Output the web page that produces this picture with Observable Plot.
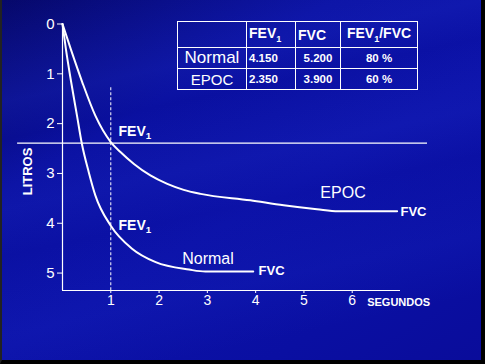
<!DOCTYPE html>
<html><head><meta charset="utf-8">
<script src="https://cdn.jsdelivr.net/npm/d3@7"></script>
<script src="https://cdn.jsdelivr.net/npm/@observablehq/plot@0.6"></script>
<style>
html,body{margin:0;padding:0;background:#000;}
#wrap{position:relative;width:485px;height:364px;overflow:hidden;
 background:
  linear-gradient(168deg, rgba(0,0,40,0.0) 0%, rgba(40,60,220,0.18) 22%, rgba(0,0,40,0.0) 30%, rgba(40,60,220,0.15) 45%, rgba(0,0,40,0.0) 55%, rgba(30,50,210,0.15) 72%, rgba(0,0,0,0) 85%),
  linear-gradient(150deg, #06086a 0%, #0a10a0 30%, #0c12a8 55%, #0a0fa2 80%, #0a0c9a 100%);}
#frame{position:absolute;left:0;top:0;width:485px;height:364px;box-sizing:border-box;border-left:2px solid #222;border-right:4px solid #000;border-bottom:4px solid #000;pointer-events:none;}
#wrap svg{position:absolute;left:0;top:0;}
table{position:absolute;left:177px;top:21px;border-collapse:collapse;color:#fff;font-family:"Liberation Sans",Arial,sans-serif;}
td{border:1.5px solid #fff;padding:0 2px;white-space:nowrap;}
td sub{font-size:0.65em;}
</style></head>
<body><div id="wrap"><div id="frame"></div></div>
<script>
// Data
const normalT = [0, 0.07, 0.18, 0.30, 0.40, 0.545, 0.68, 1, 1.44, 1.93, 2.62, 2.96, 3.95];
const normalV = [0, 0.5, 1.17, 1.84, 2.40, 2.98, 3.44, 4.05, 4.51, 4.78, 4.93, 4.97, 4.97];
const epocT = [0, 0.17, 0.41, 0.68, 1.0, 1.2, 1.48, 1.82, 2.17, 2.51, 2.86, 3.89, 4.58, 5.27, 5.71, 6.93];
const epocV = [0, 0.5, 1.17, 1.84, 2.37, 2.57, 2.81, 3.04, 3.21, 3.33, 3.41, 3.54, 3.64, 3.72, 3.76, 3.76];
const xTicks = [1, 2, 3, 4, 5, 6];
const yTicks = [0, 1, 2, 3, 4, 5];
const xMax = 7, yMax = 5.35;
const fev1Level = [{y: 2.39, x1: -0.93, x2: 7.56}];
const fev1Time = [{x: 1, y1: 1.28, y2: yMax}];
const fevLabels = [{label: "FEV1", x: 1.16, y: 2.16}, {label: "FEV1", x: 1.16, y: 4.04}];
const seriesLabels = [{label: "Normal", x: 2.48, y: 4.72}, {label: "EPOC", x: 5.34, y: 3.39}];
const fvcLabels = [{label: "FVC", x: 7.0, y: 3.77}, {label: "FVC", x: 4.06, y: 4.95}];
const xTitle = [{label: "SEGUNDOS", x: 6.31, y: 5.59}];
const yTitle = [{label: "LITROS", x: -0.72, y: 2.96}];
const tableHeader = ["", "FEV1", "FVC", "FEV1/FVC"];
const tableRowNames = ["Normal", "EPOC"];
const tableFEV1 = ["4.150", "2.350"];
const tableFVC = ["5.200", "3.900"];
const tableRatio = ["80 %", "60 %"];

const normal = normalT.map((t, i) => ({t, v: normalV[i]}));
const epoc = epocT.map((t, i) => ({t, v: epocV[i]}));
const font = '"Liberation Sans", Arial, sans-serif';

const chart = Plot.plot({
  width: 485, height: 364,
  marginLeft: 62, marginRight: 85, marginTop: 23.5, marginBottom: 74,
  style: {background: "transparent", color: "#fff", fontFamily: font, overflow: "visible"},
  x: {domain: [0, xMax]},
  y: {domain: [0, yMax], reverse: true},
  marks: [
    Plot.axisX({ticks: xTicks, tickFormat: "d", tickSize: 3, tickPadding: 2, label: null, fontSize: 14, stroke: "#fff", color: "#fff"}),
    Plot.axisY({ticks: yTicks, tickFormat: "d", tickSize: 5, tickPadding: 3, label: null, fontSize: 15, stroke: "#fff", color: "#fff"}),
    Plot.ruleX([0], {y1: 0, y2: yMax, stroke: "#fff", strokeWidth: 1.2}),
    Plot.ruleY([yMax], {x1: 0, x2: xMax, stroke: "#fff", strokeWidth: 1.2}),
    Plot.ruleY(fev1Level, {y: "y", x1: "x1", x2: "x2", stroke: "#fff", strokeWidth: 1.2}),
    Plot.ruleX(fev1Time, {x: "x", y1: "y1", y2: "y2", stroke: "#fff", strokeWidth: 1, strokeDasharray: "3,2"}),
    Plot.line(normal, {x: "t", y: "v", stroke: "#fff", strokeWidth: 2, curve: "monotone-x"}),
    Plot.line(epoc, {x: "t", y: "v", stroke: "#fff", strokeWidth: 2, curve: "monotone-x"}),
    Plot.text(fevLabels, {x: "x", y: "y", text: "label", textAnchor: "start", fill: "#fff", fontSize: 14, fontWeight: "bold"}),
    Plot.text(seriesLabels, {x: "x", y: "y", text: "label", textAnchor: "start", fill: "#fff", fontSize: 16}),
    Plot.text(fvcLabels, {x: "x", y: "y", text: "label", textAnchor: "start", fill: "#fff", fontSize: 13, fontWeight: "bold"}),
    Plot.text(xTitle, {x: "x", y: "y", text: "label", textAnchor: "start", fill: "#fff", fontSize: 11, fontWeight: "bold"}),
    Plot.text(yTitle, {x: "x", y: "y", text: "label", rotate: -90, fill: "#fff", fontSize: 13, fontWeight: "bold"})
  ]
});
// subscript for FEV1
d3.select(chart).selectAll("text").each(function() {
  if (this.textContent === "FEV1" && !this.querySelector("tspan")) {
    this.textContent = "FEV";
    d3.select(this).append("tspan").attr("font-size", "0.7em").attr("dy", "0.3em").text("1");
  }
});
const wrap = document.getElementById("wrap");
wrap.appendChild(chart);

// table
const fmtHead = s => s.replace(/FEV1/g, "FEV<sub>1</sub>");
const colW = [69, 49, 45, 77];
const table = document.createElement("table");
let html = "<tr style='height:26px'>" + tableHeader.map((h, i) =>
  `<td style='width:${colW[i]-5}px;font-weight:bold;font-size:14px;text-align:${i===3?"center":"left"}'>${fmtHead(h)}</td>`).join("") + "</tr>";
tableRowNames.forEach((n, r) => {
  html += "<tr style='height:21px'>" +
    `<td style='font-size:${r===0?17:15}px;text-align:center'>${n}</td>` +
    `<td style='font-weight:bold;font-size:11.5px'>${tableFEV1[r]}</td>` +
    `<td style='font-weight:bold;font-size:11.5px;text-align:center'>${tableFVC[r]}</td>` +
    `<td style='font-weight:bold;font-size:11.5px;text-align:center'>${tableRatio[r]}</td></tr>`;
});
table.innerHTML = html;
wrap.appendChild(table);
</script></body></html>
